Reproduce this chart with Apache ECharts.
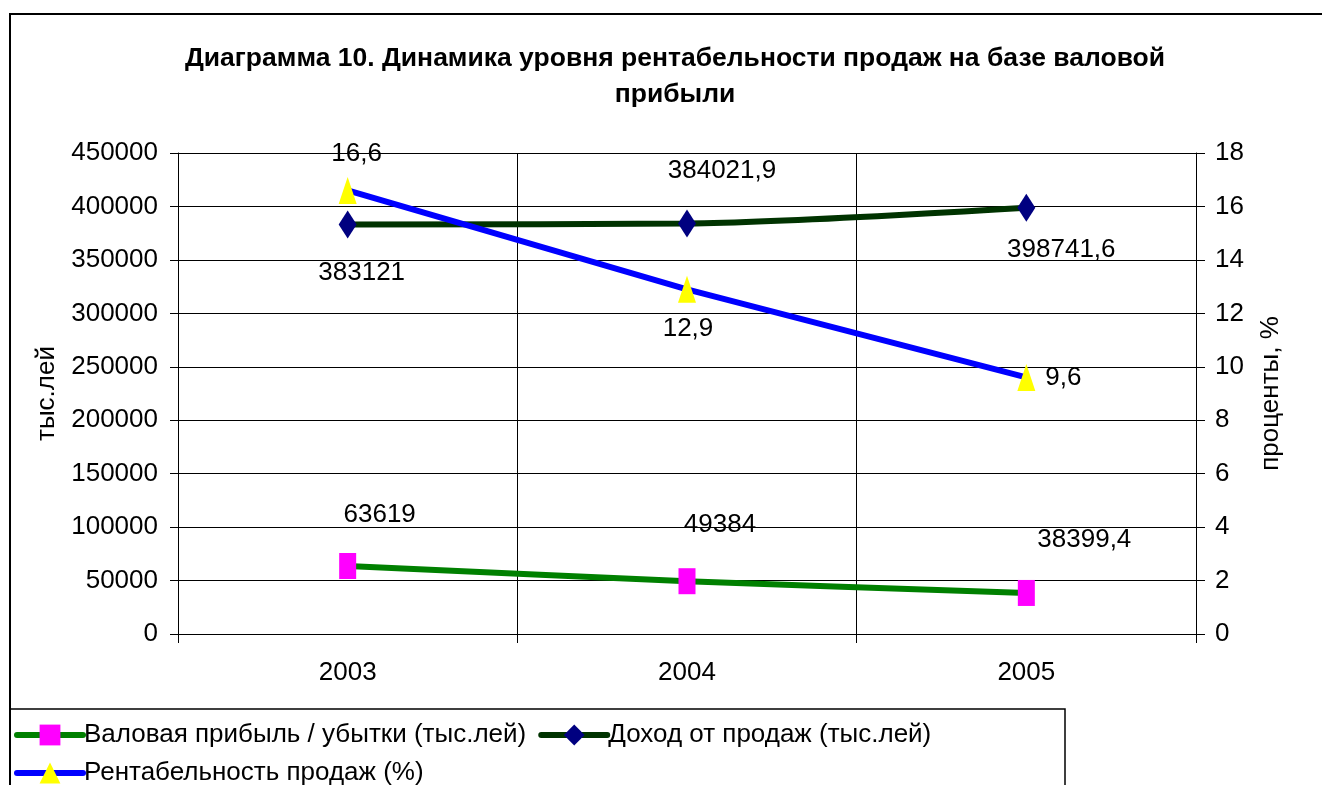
<!DOCTYPE html>
<html>
<head>
<meta charset="utf-8">
<script src="https://cdn.jsdelivr.net/npm/echarts@6/dist/echarts.min.js"></script>
<style>
	html,body{margin:0;padding:0;background:#fff;}
	#chart{width:1322px;height:785px;}
</style>
</head>
<body>
<div id="chart"></div>
<script>
	// данные диаграммы
	var years = ['2003', '2004', '2005'];
	var grossProfit = [63619, 49384, 38399.4];
	var salesIncome = [383121, 384021.9, 398741.6];
	var profitability = [16.6, 12.9, 9.6];
	var leftTicks = {min: 0, max: 450000, interval: 50000};
	var rightTicks = {min: 0, max: 18, interval: 2};

	// смещения подписей относительно точек (px)
	var grossLabelOffset = [[32, -51], [33, -56], [58, -53]];
	var incomeLabelOffset = [[14, 48], [35, -53], [35, 42]];
	var profitLabelOffset = [[9, -37], [1, 40], [37, 0]];

	var font = 'Liberation Sans, Arial, sans-serif';
	var fs = 26;

	function comma(v){
		return String(v).replace('.', ',');
	}

	function withLabels(values, offsets){
		var out = [];
		for (var i = 0; i < values.length; i++) {
			out.push({
				value: values[i],
				label: {offset: offsets[i]}
			});
		}
		return out;
	}

	var labelStyle = {
		show: true,
		position: 'inside',
		color: '#000',
		fontFamily: font,
		fontSize: fs,
		formatter: function(p){ return comma(p.value); }
	};

	var chart = echarts.init(document.getElementById('chart'));
	var option = {
		backgroundColor: '#fff',
		animation: false,
		title: {
			text: 'Диаграмма 10. Динамика уровня рентабельности продаж на базе валовой\nприбыли',
			left: 670,
			textAlign: 'center',
			top: 36,
			textStyle: {
				fontFamily: font,
				fontSize: 26.5,
				fontWeight: 'bold',
				color: '#000',
				lineHeight: 36
			}
		},
		legend: {
			left: 14,
			top: 722,
			width: 1040,
			itemWidth: 66,
			itemHeight: 26,
			itemGap: 12,
			padding: 0,
			lineStyle: {width: 6, cap: 'round'},
			textStyle: {fontFamily: font, fontSize: fs, color: '#000', padding: [0, 0, 0, -4]},
			data: ['Валовая прибыль / убытки (тыс.лей)', 'Доход от продаж (тыс.лей)', 'Рентабельность продаж (%)']
		},
		grid: {left: 178, right: 126, top: 153, bottom: 151},
		xAxis: {
			type: 'category',
			data: years,
			boundaryGap: true,
			axisLine: {lineStyle: {color: '#000', width: 1}},
			axisTick: {show: true, length: 9, lineStyle: {color: '#000'}},
			splitLine: {show: true, lineStyle: {color: '#000', width: 1}},
			axisLabel: {color: '#000', fontFamily: font, fontSize: fs, margin: 26}
		},
		yAxis: [{
			type: 'value',
			min: leftTicks.min,
			max: leftTicks.max,
			interval: leftTicks.interval,
			name: 'тыс.лей',
			nameLocation: 'middle',
			nameGap: 118,
			nameTextStyle: {color: '#000', fontFamily: font, fontSize: fs},
			axisLine: {show: true, lineStyle: {color: '#000', width: 1}},
			axisTick: {show: true, length: 8, lineStyle: {color: '#000'}},
			splitLine: {show: true, lineStyle: {color: '#000', width: 1}},
			axisLabel: {color: '#000', fontFamily: font, fontSize: fs, margin: 20,
				formatter: function(v){ return String(v); }}
		}, {
			type: 'value',
			min: rightTicks.min,
			max: rightTicks.max,
			interval: rightTicks.interval,
			position: 'right',
			name: 'проценты, %',
			nameLocation: 'middle',
			nameGap: 62,
			nameRotate: 90,
			nameTextStyle: {color: '#000', fontFamily: font, fontSize: fs},
			axisLine: {show: true, lineStyle: {color: '#000', width: 1}},
			axisTick: {show: true, length: 9, lineStyle: {color: '#000'}},
			splitLine: {show: false},
			axisLabel: {color: '#000', fontFamily: font, fontSize: fs, margin: 19}
		}],
		graphic: [{
			type: 'rect',
			shape: {x: 10, y: 14, width: 1330, height: 800},
			style: {fill: 'none', stroke: '#000', lineWidth: 2},
			silent: true
		}, {
			type: 'rect',
			shape: {x: 10, y: 709, width: 1055, height: 100},
			style: {fill: 'none', stroke: '#000', lineWidth: 1.5},
			silent: true
		}],
		series: [{
			name: 'Валовая прибыль / убытки (тыс.лей)',
			type: 'line',
			yAxisIndex: 0,
			smooth: 0.3,
			symbol: 'rect',
			symbolSize: [17, 26],
			lineStyle: {color: '#008000', width: 6},
			itemStyle: {color: '#FF00FF', borderWidth: 0},
			label: labelStyle,
			z: 3,
			data: withLabels(grossProfit, grossLabelOffset)
		}, {
			name: 'Доход от продаж (тыс.лей)',
			type: 'line',
			yAxisIndex: 0,
			smooth: 0.3,
			symbol: 'diamond',
			symbolSize: [18, 28],
			lineStyle: {color: '#003300', width: 6},
			itemStyle: {color: '#000080', borderWidth: 0},
			label: labelStyle,
			z: 3,
			data: withLabels(salesIncome, incomeLabelOffset)
		}, {
			name: 'Рентабельность продаж (%)',
			type: 'line',
			yAxisIndex: 1,
			symbol: 'triangle',
			symbolSize: [18, 27],
			lineStyle: {color: '#0000FF', width: 6},
			itemStyle: {color: '#FFFF00', borderWidth: 0},
			label: labelStyle,
			z: 4,
			data: withLabels(profitability, profitLabelOffset)
		}]
	};
	chart.setOption(option);
</script>
</body>
</html>
